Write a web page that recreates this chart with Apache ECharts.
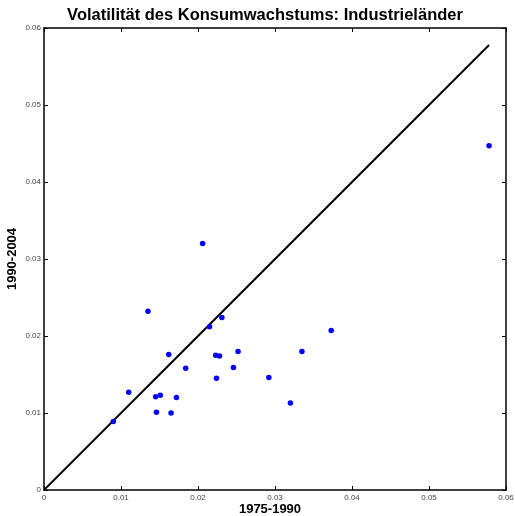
<!DOCTYPE html>
<html>
<head>
<meta charset="utf-8">
<script src="https://cdn.jsdelivr.net/npm/echarts@6/dist/echarts.min.js"></script>
<style>
  html, body { margin: 0; padding: 0; background: #fff; }
  #chart { width: 515px; height: 516px; }
</style>
</head>
<body>
<div id="chart"></div>
<script>
// Volatilität 1975-1990 (x) vs 1990-2004 (y)
var vol7590 = [0.0090, 0.0110, 0.0135, 0.0145, 0.0151, 0.0146, 0.0162, 0.0165, 0.0172, 0.0184,
  0.0206, 0.0215, 0.0231, 0.0223, 0.0228, 0.0224, 0.0246, 0.0252, 0.0292, 0.0320,
  0.0335, 0.0373, 0.0578];
var vol9004 = [0.0089, 0.0127, 0.0232, 0.0121, 0.0123, 0.0101, 0.0176, 0.0100, 0.0120, 0.0158,
  0.0320, 0.0212, 0.0224, 0.0175, 0.0174, 0.0145, 0.0159, 0.0180, 0.0146, 0.0113,
  0.0180, 0.0207, 0.0447];
// 45-Grad-Linie
var diagonal = [0, 0.0578];
var axisTicks = [0, 0.01, 0.02, 0.03, 0.04, 0.05, 0.06];

var pts = vol7590.map(function (v, i) { return [v, vol9004[i]]; });
var diagPts = diagonal.map(function (v) { return [v, v]; });

var myChart = echarts.init(document.getElementById('chart'), null, { renderer: 'canvas' });

function labelFmt(v) {
    return v === 0 ? '0' : String(Math.round(v * 100) / 100);
}
var tickLabel = { fontSize: 8, color: '#444', fontFamily: 'Liberation Sans', formatter: labelFmt };
var line = { show: true, onZero: false, lineStyle: { color: '#000', width: 1.5 } };
var tick = { show: true, inside: true, length: 4, lineStyle: { color: '#000', width: 1 } };

var option = {
    animation: false,
    title: {
        text: 'Volatilität des Konsumwachstums: Industrieländer',
        left: 260, top: 2, textAlign: 'center',
        textStyle: { fontSize: 16.5, fontWeight: 'bold', fontFamily: 'Liberation Sans', color: '#000' }
    },
    grid: { left: 44, right: 9, top: 28, bottom: 26, containLabel: false, outerBoundsMode: 'none' },
    xAxis: [
        {
            type: 'value', min: 0, max: 0.06, interval: 0.01, position: 'bottom',
            name: '1975-1990', nameLocation: 'middle', nameGap: 13, nameMoveOverlap: false,
            nameTextStyle: { fontSize: 13, fontWeight: 'bold', fontFamily: 'Liberation Sans', color: '#000', padding: [0, 10, 0, 0] },
            axisLine: line, axisTick: tick, axisLabel: Object.assign({ margin: 4 }, tickLabel),
            splitLine: { show: false }
        },
        {
            type: 'value', min: 0, max: 0.06, interval: 0.01, position: 'top',
            axisLine: line, axisTick: tick, axisLabel: { show: false }, splitLine: { show: false }
        }
    ],
    yAxis: [
        {
            type: 'value', min: 0, max: 0.06, interval: 0.01, position: 'left',
            name: '1990-2004', nameLocation: 'middle', nameGap: 25, nameRotate: 90, nameMoveOverlap: false,
            nameTextStyle: { fontSize: 13, fontWeight: 'bold', fontFamily: 'Liberation Sans', color: '#000' },
            axisLine: line, axisTick: tick, axisLabel: Object.assign({ margin: 3 }, tickLabel),
            splitLine: { show: false }
        },
        {
            type: 'value', min: 0, max: 0.06, interval: 0.01, position: 'right',
            axisLine: line, axisTick: tick, axisLabel: { show: false }, splitLine: { show: false }
        }
    ],
    series: [
        {
            type: 'line', data: diagPts, symbol: 'none',
            lineStyle: { color: '#000', width: 2 }, z: 2
        },
        {
            type: 'scatter', data: pts, symbol: 'circle', symbolSize: 5.5,
            itemStyle: { color: '#0000ff', opacity: 1 }, z: 3
        }
    ]
};
myChart.setOption(option);
window.addEventListener('resize', function () { myChart.resize(); });
</script>
</body>
</html>
